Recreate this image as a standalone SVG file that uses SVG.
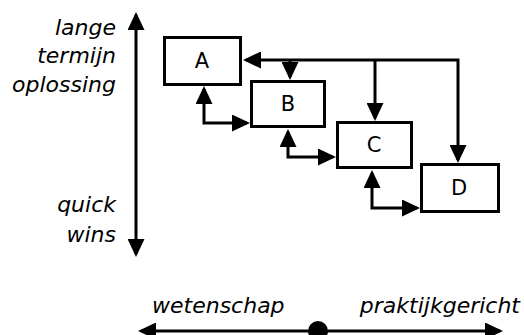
<svg xmlns="http://www.w3.org/2000/svg" width="524" height="335" viewBox="0 0 524 335">
<style>
.box{fill:#fff;stroke:#000;stroke-width:3}
.lbl{font-family:"DejaVu Sans",Verdana,sans-serif;font-size:21px;fill:#000;text-anchor:middle}
.ax{font-family:"DejaVu Sans",Verdana,sans-serif;font-size:22px;font-style:italic;fill:#000}
.c{fill:none;stroke:#000;stroke-width:3}
</style>
<defs>
<marker id="ah" viewBox="0 0 18 17" refX="15" refY="8.5" markerWidth="18" markerHeight="17" markerUnits="userSpaceOnUse" orient="auto-start-reverse">
<path d="M0,0 L18,8.5 L0,17 z" fill="#000"/>
</marker>
</defs>
<g id="axes">
<path class="c" d="M136,15 L136,254" marker-start="url(#ah)" marker-end="url(#ah)"/>
<path class="c" d="M141,331 L500,331" marker-start="url(#ah)" marker-end="url(#ah)"/>
<circle cx="318" cy="331" r="10" fill="#000"/>
<text class="ax" text-anchor="end" x="116" y="35">lange</text>
<text class="ax" text-anchor="end" x="116" y="63">termijn</text>
<text class="ax" text-anchor="end" x="116" y="92">oplossing</text>
<text class="ax" text-anchor="end" x="116" y="212">quick</text>
<text class="ax" text-anchor="end" x="116" y="242">wins</text>
<text class="ax" x="152" y="313">wetenschap</text>
<text class="ax" text-anchor="end" x="520" y="313">praktijkgericht</text>
</g>
<g id="connectors">
<path class="c" d="M246,60 L458,60 L458,160" marker-start="url(#ah)" marker-end="url(#ah)"/>
<path class="c" d="M290,60 L290,77" marker-end="url(#ah)"/>
<path class="c" d="M375,60 L375,118" marker-end="url(#ah)"/>
<path class="c" d="M204,89 L204,123 L247,123" marker-start="url(#ah)" marker-end="url(#ah)"/>
<path class="c" d="M288,132 L288,157 L333,157" marker-start="url(#ah)" marker-end="url(#ah)"/>
<path class="c" d="M372,173 L372,208 L417,208" marker-start="url(#ah)" marker-end="url(#ah)"/>
</g>
<g id="A"><rect class="box" x="164.5" y="37.5" width="76" height="47"/><text class="lbl" x="202" y="68">A</text></g>
<g id="B"><rect class="box" x="251.5" y="81.5" width="73" height="45"/><text class="lbl" x="288" y="111">B</text></g>
<g id="C"><rect class="box" x="337.5" y="122.5" width="74" height="45"/><text class="lbl" x="374" y="152">C</text></g>
<g id="D"><rect class="box" x="421.5" y="164.5" width="77" height="47"/><text class="lbl" x="459" y="195">D</text></g>
</svg>
